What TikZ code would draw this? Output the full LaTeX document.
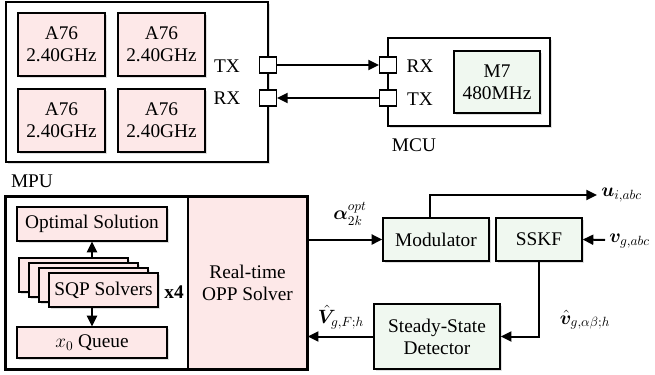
\documentclass[tikz,border=0pt]{standalone}
\usepackage{amsmath,bm}
\usepackage[no-math]{fontspec}
\setmainfont{Liberation Serif}
\newfontfamily\tnr{Liberation Serif}
\usetikzlibrary{arrows.meta,shadows,calc}
\definecolor{pinkfill}{RGB}{253,232,232}
\definecolor{greenfill}{RGB}{240,248,240}
\tikzset{
  shd/.style={drop shadow={opacity=0.25,shadow xshift=1.6pt,shadow yshift=-1.6pt}},
  outerbox/.style={draw,line width=1.6pt,fill=white,shd,inner sep=0pt},
  pinkbox/.style={draw,line width=0.9pt,fill=pinkfill,shd,align=center,inner sep=0pt},
  greenbox/.style={draw,line width=1pt,fill=greenfill,shd,align=center,inner sep=0pt},
  port/.style={draw,line width=0.8pt,fill=white,minimum width=12.75pt,minimum height=12pt,inner sep=0pt},
  conn/.style={line width=1.5pt},
  arr/.style={conn,-{Triangle[length=8pt,width=7.5pt]}},
  lbl/.style={inner sep=0pt},
}
\begin{document}
\begin{tikzpicture}[x=0.75pt,y=-0.75pt,font=\tnr\fontsize{14.5}{16.5}\selectfont]
\useasboundingbox (0,0) rectangle (655,374);
% ---------- top MPU ----------
\node[outerbox,minimum width=196.5pt,minimum height=120pt] (mputop) at (137,82) {};
\foreach \n/\x/\y in {a1/61.5/44.5,a2/161.5/44.5,a3/61.5/120.5,a4/161.5/120.5}{
  \node[pinkbox,minimum width=65.25pt,minimum height=47.25pt] (\n) at (\x,\y) {A76\\2.40GHz};
}
\node[lbl] (tx1) at (227,66) {TX};
\node[lbl] (rx1) at (227,98.5) {RX};
\node[port] (ptx1) at (268,65) {};
\node[port] (prx1) at (268,98) {};
% ---------- MCU ----------
\node[outerbox,minimum width=121.5pt,minimum height=66pt] (mcu) at (469,82) {};
\node[port] (prx2) at (388,65) {};
\node[port] (ptx2) at (388,98) {};
\node[lbl] (rx2) at (420,66) {RX};
\node[lbl] (tx2) at (420,99) {TX};
\node[greenbox,minimum width=64.5pt,minimum height=46.5pt] (m7) at (497,82) {M7\\480MHz};
\node[lbl] (mculbl) at (414,145) {MCU};
\draw[arr] (ptx1) -- (prx2);
\draw[arr] (ptx2) -- (prx1);
% ---------- lower MPU ----------
\node[lbl] (mpulbl) at (32,181) {MPU};
\node[outerbox,minimum width=225.75pt,minimum height=129pt] (mpu) at (156.5,283) {};
\node[draw,line width=1.2pt,fill=pinkfill,minimum width=89.25pt,minimum height=129pt,align=center,inner sep=0pt] (opp) at (247.5,283) {Real-time\\OPP Solver};
\draw[line width=1.6pt] (mpu.north west) rectangle (mpu.south east);
\node[pinkbox,minimum width=112.5pt,minimum height=25.5pt] (optsol) at (92,224) {Optimal Solution};
\node[pinkbox,minimum width=81.75pt,minimum height=25.5pt] (sqp4) at (73.5,275) {};
\node[pinkbox,minimum width=81.75pt,minimum height=25.5pt] (sqp3) at (83.5,280) {};
\node[pinkbox,minimum width=81.75pt,minimum height=25.5pt] (sqp2) at (93.5,285) {};
\node[pinkbox,minimum width=81.75pt,minimum height=25.5pt] (sqp) at (103.5,290) {SQP Solvers};
\node[lbl,font=\tnr\fontsize{14.5}{16.5}\selectfont\bfseries] (x4) at (174,292) {x4};
\node[pinkbox,minimum width=112.5pt,minimum height=23.25pt] (queue) at (92,342.5) {$x_0$ Queue};
\coordinate (sqptop) at (92,258);
\coordinate (sqpbot) at (92,307);
\draw[arr] (sqptop) -- (sqptop |- optsol.south);
\draw[arr] (sqpbot) -- (sqpbot |- queue.north);
% ---------- right side ----------
\node[greenbox,minimum width=79.5pt,minimum height=32.25pt] (mod) at (436,239.5) {Modulator};
\node[greenbox,minimum width=64.5pt,minimum height=32.25pt] (sskf) at (539,239.5) {SSKF};
\node[greenbox,minimum width=94.5pt,minimum height=48.75pt] (det) at (437,336.5) {Steady-State\\Detector};
\draw[arr] (mod.west -| opp.east) -- (mod.west);
\node[lbl] (alpha) at (350,214) {$\bm{\alpha}_{2k}^{opt}$};
\coordinate (ustart) at (430,218);
\coordinate (ucorner) at (430,195);
\coordinate (uend) at (597,195);
\draw[arr] (ustart) -- (ucorner) -- (uend);
\node[lbl,anchor=west] (ulbl) at (601,195) {$\bm{u}_{i,abc}$};
\coordinate (vstart) at (605,240);
\draw[arr] (vstart) -- (sskf.east);
\node[lbl,anchor=west] (vlbl) at (609,241) {$\bm{v}_{g,abc}$};
\draw[arr] (sskf.south) |- (det.east);
\node[lbl] (vhlbl) at (585,320) {$\hat{\bm{v}}_{g,\alpha\beta;h}$};
\draw[arr] (det.west) -- (det.west -| opp.east);
\node[lbl] (Vhlbl) at (341,317) {$\hat{\bm{V}}_{g,F;h}$};
\end{tikzpicture}
\end{document}
